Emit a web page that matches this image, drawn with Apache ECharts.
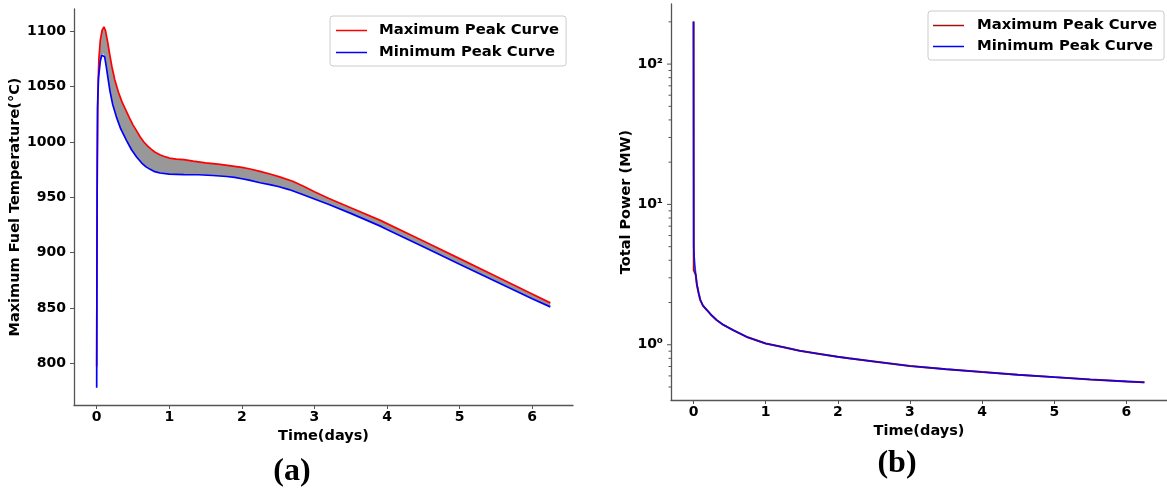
<!DOCTYPE html>
<html><head><meta charset="utf-8">
<script src="https://cdn.jsdelivr.net/npm/echarts@6/dist/echarts.min.js"></script>
<style>html,body{margin:0;padding:0;background:#fff}#c{width:1167px;height:488px}</style>
</head><body><div id="c"></div>
<script>
// ---------- data ----------
const xTicks = [0, 1, 2, 3, 4, 5, 6];
const tempTicks = [800, 850, 900, 950, 1000, 1050, 1100];
const powerTicks = [1, 10, 100];
const powerTickLabels = ['10⁰', '10¹', '10²'];
const powerMinorTicks = [0.5, 0.6, 0.7, 0.8, 0.9, 2, 3, 4, 5, 6, 7, 8, 9, 20, 30, 40, 50, 60, 70, 80, 90, 200];
const seriesNames = ['Maximum Peak Curve', 'Minimum Peak Curve'];

// (a) maximum fuel temperature, maximum-peak curve
const tempMaxTime  = [0, 0.003, 0.008, 0.015, 0.03, 0.05, 0.075, 0.1, 0.12, 0.15, 0.18, 0.21, 0.25, 0.3, 0.35, 0.4, 0.45, 0.5, 0.55, 0.6, 0.65, 0.7, 0.75, 0.8, 0.87, 0.95, 1.0, 1.1, 1.2, 1.33, 1.5, 1.7, 1.9, 2.0, 2.1, 2.25, 2.4, 2.52, 2.7, 2.85, 3.0, 3.2, 3.5, 3.9, 4.5, 5.0, 5.5, 6.0, 6.25];
const tempMaxValue = [797, 880, 980, 1040, 1075, 1092, 1101, 1104, 1101, 1091, 1079, 1068, 1056, 1045, 1036, 1029, 1022, 1015.5, 1010, 1004.5, 1000, 996.5, 993.5, 991, 988.5, 986.5, 985.5, 984.5, 984, 982.7, 981.2, 979.7, 978, 977, 975.8, 973.5, 970.8, 968.5, 964.5, 960, 955, 949, 940.5, 929.4, 910.5, 894.6, 878.6, 862.6, 854.6];
// (a) minimum-peak curve
const tempMinTime  = [0, 0.002, 0.006, 0.012, 0.025, 0.05, 0.07, 0.09, 0.11, 0.13, 0.155, 0.183, 0.22, 0.275, 0.33, 0.41, 0.48, 0.55, 0.62, 0.68, 0.73, 0.8, 0.87, 1.0, 1.2, 1.4, 1.6, 1.79, 1.9, 2.0, 2.1, 2.25, 2.4, 2.5, 2.65, 2.8, 3.0, 3.2, 3.5, 3.9, 4.0, 4.5, 5.0, 5.5, 6.0, 6.25];
const tempMinValue = [778, 850, 950, 1030, 1058, 1073, 1078.5, 1080, 1077, 1069, 1058, 1046, 1034, 1022, 1012, 1001.5, 993, 986.5, 981, 977.5, 975.5, 973.2, 972, 971, 970.6, 970.4, 969.7, 968.8, 968, 966.8, 965.5, 963.2, 961.3, 959.8, 957, 953.5, 948.5, 943.5, 935.5, 924.2, 921, 905.3, 889.6, 874, 858.3, 851];

// (b) total power
const powerMaxTime  = [0, 0.003, 0.02, 0.03, 0.046, 0.07, 0.092, 0.13, 0.184, 0.25, 0.32, 0.4, 0.55, 0.75, 1.0, 1.25, 1.47, 1.75, 2.0, 2.155, 2.5, 3.0, 3.5, 4.0, 4.5, 5.0, 5.5, 6.0, 6.25];
const powerMaxValue = [200, 3.4, 3.5, 3.15, 2.68, 2.34, 2.09, 1.9, 1.77, 1.62, 1.5, 1.4, 1.27, 1.13, 1.02, 0.96, 0.906, 0.86, 0.82, 0.8, 0.76, 0.705, 0.67, 0.64, 0.612, 0.588, 0.566, 0.548, 0.54];
const powerMinTime  = [0, 0.002, 0.01, 0.02, 0.03, 0.046, 0.07, 0.092, 0.13, 0.184, 0.25, 0.32, 0.4, 0.55, 0.75, 1.0, 1.25, 1.47, 1.75, 2.0, 2.155, 2.5, 3.0, 3.5, 4.0, 4.5, 5.0, 5.5, 6.0, 6.25];
const powerMinValue = [202, 5.0, 4.2, 3.6, 3.2, 2.7, 2.35, 2.1, 1.9, 1.77, 1.62, 1.5, 1.4, 1.27, 1.13, 1.02, 0.96, 0.906, 0.86, 0.82, 0.8, 0.76, 0.705, 0.67, 0.64, 0.61, 0.588, 0.565, 0.548, 0.538];

// ---------- chart ----------
const zip = (a, b) => a.map((v, i) => [v, b[i]]);
const FONT = 'DejaVu Sans';
const AX = '#555';
const X_MIN = -0.3125, X_MAX = 6.5625;
const tickText = { fontFamily: FONT, fontWeight: 'bold', fontSize: 14, color: '#000' };
const nameText = { fontFamily: FONT, fontWeight: 'bold', fontSize: 14.5, color: '#000' };
const legendText = { fontFamily: FONT, fontWeight: 'bold', fontSize: 14.8, color: '#000' };

function xAxisCfg(gi) {
  return {
    type: 'value', gridIndex: gi, min: X_MIN, max: X_MAX,
    name: 'Time(days)', nameLocation: 'middle', nameGap: 20, nameTextStyle: nameText,
    axisLine: { onZero: false, lineStyle: { color: AX, width: 1.3 } },
    axisTick: { customValues: xTicks, length: 4, lineStyle: { color: AX, width: 1 } },
    axisLabel: Object.assign({ customValues: xTicks, margin: 5, formatter: v => String(v) }, tickText),
    splitLine: { show: false }
  };
}

// log-axis tick marks (major + minor), placed through the log axis scale
const powerTickData = powerTicks.map(v => [X_MIN, v, 4]).concat(powerMinorTicks.map(v => [X_MIN, v, 2.5]));

const chart = echarts.init(document.getElementById('c'), null, { renderer: 'canvas' });
chart.setOption({
  animation: false,
  backgroundColor: '#fff',
  grid: [
    { left: 74, top: 9, width: 499, height: 396 },
    { left: 671, top: 4, width: 500, height: 396 }
  ],
  xAxis: [xAxisCfg(0), xAxisCfg(1)],
  yAxis: [
    {
      type: 'value', gridIndex: 0, min: 762.3, max: 1120.2,
      name: 'Maximum Fuel Temperature(°C)', nameLocation: 'middle', nameGap: 45, nameTextStyle: nameText,
      axisLine: { show: true, onZero: false, lineStyle: { color: AX, width: 1.3 } },
      axisTick: { show: true, customValues: tempTicks, length: 4, lineStyle: { color: AX } },
      axisLabel: Object.assign({ customValues: tempTicks, margin: 8, formatter: v => String(v) }, tickText),
      splitLine: { show: false }
    },
    {
      type: 'log', logBase: 10, gridIndex: 1, min: 0.404, max: 268,
      name: 'Total Power (MW)', nameLocation: 'middle', nameGap: 33, nameTextStyle: nameText,
      axisLine: { show: true, onZero: false, lineStyle: { color: AX, width: 1.3 } },
      axisTick: { show: false },
      axisLabel: Object.assign({
        customValues: powerTicks, margin: 8,
        formatter: v => powerTickLabels[Math.round(Math.log10(v))]
      }, tickText),
      splitLine: { show: false }
    }
  ],
  legend: [
    {
      orient: 'vertical', left: 330, top: 16, padding: [6, 7, 5, 6], itemGap: 5,
      icon: 'rect', itemWidth: 31, itemHeight: 1.5,
      borderColor: '#ccc', borderWidth: 1, borderRadius: 3,
      textStyle: Object.assign({ lineHeight: 17, padding: [0, 0, 0, 7] }, legendText),
      data: [
        { name: seriesNames[0], itemStyle: { color: '#ff0000' } },
        { name: seriesNames[1], itemStyle: { color: '#0000ff' } }
      ]
    },
    {
      orient: 'vertical', left: 928, top: 11, padding: [6, 7, 5, 5], itemGap: 4,
      icon: 'rect', itemWidth: 31, itemHeight: 1.5,
      borderColor: '#ccc', borderWidth: 1, borderRadius: 3,
      textStyle: Object.assign({ lineHeight: 17, padding: [0, 0, 0, 8] }, legendText),
      data: [
        { name: seriesNames[0], itemStyle: { color: '#a01010' } },
        { name: seriesNames[1], itemStyle: { color: '#0000ff' } }
      ]
    }
  ],
  graphic: [
    { type: 'text', style: { text: '(a)', x: 292, y: 472, align: 'center', verticalAlign: 'middle', font: 'bold 32px "Liberation Serif"', fill: '#000' } },
    { type: 'text', style: { text: '(b)', x: 897, y: 464, align: 'center', verticalAlign: 'middle', font: 'bold 32px "Liberation Serif"', fill: '#000' } }
  ],
  series: [
    {
      type: 'custom', xAxisIndex: 0, yAxisIndex: 0, silent: true, z: 1,
      data: [[0, 900]],
      renderItem: function (params, api) {
        const pts = [];
        for (let i = 0; i < tempMaxTime.length; i++) pts.push(api.coord([tempMaxTime[i], tempMaxValue[i]]));
        for (let i = tempMinTime.length - 1; i >= 0; i--) pts.push(api.coord([tempMinTime[i], tempMinValue[i]]));
        return { type: 'polygon', shape: { points: pts }, style: { fill: '#8f8f8f', opacity: 0.92 } };
      }
    },
    {
      type: 'custom', xAxisIndex: 1, yAxisIndex: 1, silent: true, z: 5, clip: false,
      data: powerTickData,
      renderItem: function (params, api) {
        const p = api.coord([api.value(0), api.value(1)]);
        const len = api.value(2);
        return { type: 'line', shape: { x1: p[0] - len, y1: p[1], x2: p[0], y2: p[1] }, style: { stroke: AX, lineWidth: 1 } };
      }
    },
    { name: seriesNames[0], type: 'line', xAxisIndex: 0, yAxisIndex: 0, data: zip(tempMaxTime, tempMaxValue), symbol: 'none', z: 3, lineStyle: { color: '#ff0000', width: 1.7 }, itemStyle: { color: '#ff0000' } },
    { name: seriesNames[1], type: 'line', xAxisIndex: 0, yAxisIndex: 0, data: zip(tempMinTime, tempMinValue), symbol: 'none', z: 4, lineStyle: { color: '#0000ff', width: 1.7 }, itemStyle: { color: '#0000ff' } },
    { name: seriesNames[0], type: 'line', xAxisIndex: 1, yAxisIndex: 1, data: zip(powerMaxTime, powerMaxValue), symbol: 'none', z: 3, lineStyle: { color: '#a01010', width: 2 }, itemStyle: { color: '#a01010' } },
    { name: seriesNames[1], type: 'line', xAxisIndex: 1, yAxisIndex: 1, data: zip(powerMinTime, powerMinValue), symbol: 'none', z: 4, lineStyle: { color: '#0000ff', width: 1.6, opacity: 0.85 }, itemStyle: { color: '#0000ff' } }
  ]
});
</script></body></html>
